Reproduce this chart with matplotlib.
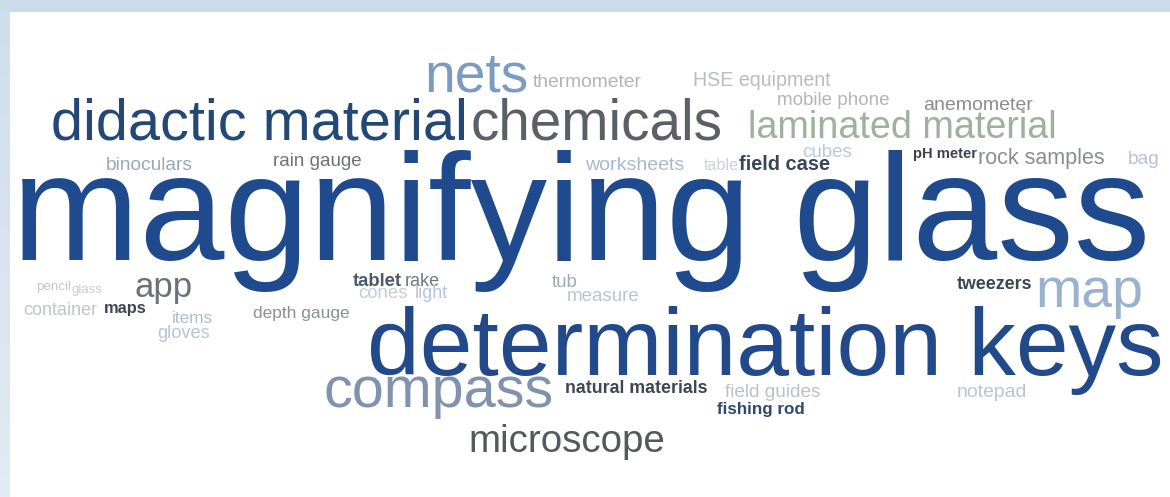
import matplotlib
matplotlib.use("Agg")
import matplotlib.pyplot as plt
from matplotlib.patches import Rectangle
import numpy as np

# ---- data: words and their weights (approx. relative frequency, read from glyph size) ----
words = [
    "magnifying glass", "determination keys", "didactic material", "chemicals", "nets",
    "thermometer", "HSE equipment", "mobile phone", "anemometer", "laminated material",
    "binoculars", "rain gauge", "worksheets", "table", "field case", "cubes", "pH meter",
    "rock samples", "bag", "pencil", "glass", "app", "container", "maps", "items", "gloves",
    "depth gauge", "tablet", "rake", "cones", "light", "tub", "measure", "compass",
    "natural materials", "microscope", "field guides", "fishing rod", "tweezers", "map",
    "notepad",
]
weights = [
    153, 95, 57, 57, 54,
    19, 19, 19, 19, 39,
    19, 18, 19, 15, 20, 16, 17,
    18, 17, 15, 15, 35, 16, 16, 15, 15,
    18, 15, 15, 15, 15, 13, 15, 57,
    16, 38, 17, 17, 16, 55,
    17,
]
colors = [
    "#1f4b8e", "#22498a", "#234876", "#5b5f66", "#7b9cc0",
    "#b3b3b3", "#b8bcc0", "#b5b5b5", "#8c8c8c", "#9fb09e",
    "#98a8bc", "#6e7278", "#a8b8cc", "#c8d2de", "#3a4656", "#b8c8dc", "#3c4450",
    "#8a8e92", "#b8c2d0", "#c0c8c0", "#c4ccd4", "#6c7078", "#c0c4c8", "#3c4656",
    "#b0bccc", "#b8c4d4",
    "#8a9098", "#4c5a6a", "#6e7880", "#c4ccd8", "#b4c4dc", "#a0a8b0", "#b8c4d4",
    "#8092ac",
    "#3e4650", "#55585c", "#b8c0cc", "#2e4a6e", "#3a4652", "#9ab2ce",
    "#b8c4d4",
]
bold_words = {"field case", "pH meter", "maps", "tweezers", "natural materials",
              "fishing rod", "tablet"}

# ---- layout (pixel box of each word: left, right, baseline) ----
layout = {
    "magnifying glass": (12, 1150, 260),
    "determination keys": (367, 1163, 375),
    "didactic material": (51, 467, 140),
    "chemicals": (471, 723, 140),
    "nets": (424, 528, 91),
    "thermometer": (533, 642, 87),
    "HSE equipment": (693, 830, 86),
    "mobile phone": (777, 890, 105),
    "anemometer": (923, 1032, 110),
    "laminated material": (748, 1057, 138),
    "binoculars": (106, 193, 170),
    "rain gauge": (273, 362, 166),
    "worksheets": (585, 683, 170),
    "table": (704, 739, 170),
    "field case": (739, 830, 170),
    "cubes": (802, 852, 157),
    "pH meter": (913, 977, 158),
    "rock samples": (978, 1105, 164),
    "bag": (1128, 1160, 164),
    "pencil": (36, 71, 290),
    "glass": (71, 102, 293),
    "app": (135, 193, 297),
    "container": (23, 97, 315),
    "maps": (104, 147, 313),
    "items": (172, 213, 323),
    "gloves": (157, 210, 338),
    "depth gauge": (253, 350, 318),
    "tablet": (353, 402, 286),
    "rake": (405, 440, 286),
    "cones": (358, 408, 298),
    "light": (415, 448, 298),
    "tub": (552, 578, 287),
    "measure": (567, 640, 301),
    "compass": (323, 553, 407),
    "natural materials": (565, 708, 393),
    "microscope": (468, 665, 452),
    "field guides": (725, 822, 397),
    "fishing rod": (717, 805, 414),
    "tweezers": (957, 1032, 289),
    "map": (1035, 1143, 307),
    "notepad": (957, 1027, 397),
}

W, H = 1170, 497
fig = plt.figure(figsize=(W / 100, H / 100), dpi=100)
fig.patch.set_facecolor("#dbe6f1")
ax = fig.add_axes([0, 0, 1, 1])
ax.set_xlim(0, W)
ax.set_ylim(H, 0)
ax.axis("off")

# frame: top band, left band with a soft vertical gradient, white panel
grad = np.linspace(0, 1, 256).reshape(-1, 1)
c0 = np.array([0xcd, 0xde, 0xec]) / 255
c1 = np.array([0xe3, 0xeb, 0xf4]) / 255
img = c0[None, None, :] * (1 - grad[..., None]) + c1[None, None, :] * grad[..., None]
ax.imshow(img, extent=(0, 10, H, 0), aspect="auto", zorder=0)
ax.add_patch(Rectangle((0, 0), W, 12, color="#cbdcea", zorder=0, lw=0))
ax.add_patch(Rectangle((10, 12), W - 10, H - 12, color="white", zorder=0.5, lw=0))

family = ["Liberation Sans", "DejaVu Sans"]
texts = []
for w, wt, col in zip(words, weights, colors):
    x0, x1, yb = layout[w]
    t = ax.text(x0, yb, w, fontsize=wt * 0.72, color=col, family=family,
                fontweight="bold" if w in bold_words else "normal",
                ha="left", va="baseline", zorder=2)
    texts.append((t, wt, x1 - x0))

fig.canvas.draw()
r = fig.canvas.get_renderer()
for t, wt, target in texts:
    bw = t.get_window_extent(r).width
    if bw > 0:
        t.set_fontsize(wt * 0.72 * target / bw)

fig.savefig("out.png", dpi=100, facecolor=fig.get_facecolor())
